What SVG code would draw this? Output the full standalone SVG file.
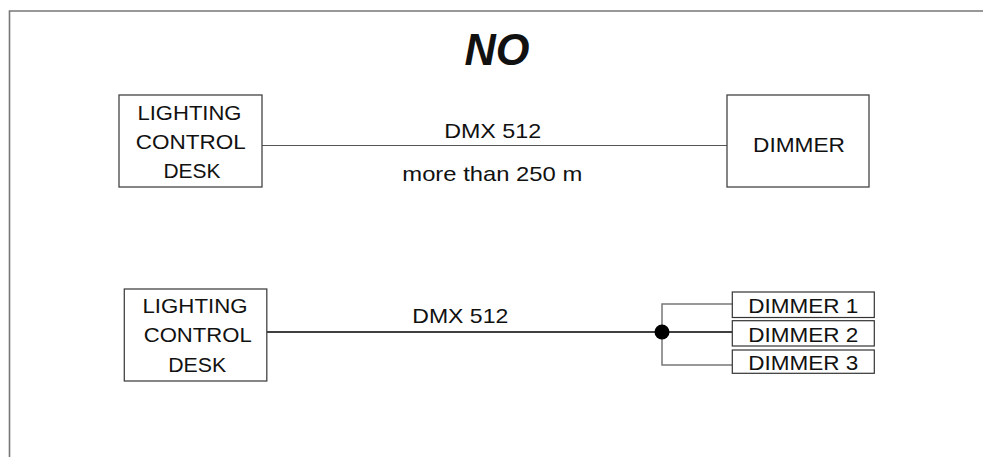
<svg xmlns="http://www.w3.org/2000/svg" width="983" height="457" viewBox="0 0 983 457">
<style>
text{font-family:"Liberation Sans",Arial,sans-serif;fill:#111;text-anchor:middle}
.t{font-size:20px}
.l{font-size:21px}
.box{fill:#fff;stroke:#444;stroke-width:1.3}
.sbox{fill:#fff;stroke:#333;stroke-width:1.2}
</style>
<rect width="983" height="457" fill="#fff"/>
<path d="M9.5,457 V11 H983" fill="none" stroke="#777" stroke-width="1.6"/>
<text x="497" y="65" style="font-size:45px;font-weight:bold;font-style:italic" fill="#000" textLength="65" lengthAdjust="spacingAndGlyphs">NO</text>
<g id="connectors">
<line x1="262" y1="145.5" x2="727" y2="145.5" stroke="#555" stroke-width="1.2"/>
<line x1="267" y1="332" x2="662" y2="332" stroke="#000" stroke-width="1.4"/>
<path d="M732,304 H662 V365 H732" fill="none" stroke="#777" stroke-width="1.5"/>
<line x1="662" y1="332" x2="732" y2="332" stroke="#000" stroke-width="1.4"/>
<circle cx="662" cy="332" r="7.5" fill="#000"/>
</g>
<g id="label-dmx1"><text class="l" x="492.7" y="138.3" textLength="97" lengthAdjust="spacingAndGlyphs">DMX 512</text></g>
<g id="label-dist"><text class="l" x="492.3" y="181" textLength="180" lengthAdjust="spacingAndGlyphs">more than 250 m</text></g>
<g id="label-dmx2"><text class="l" x="460.3" y="323.3" textLength="96" lengthAdjust="spacingAndGlyphs">DMX 512</text></g>
<g id="desk1">
<rect class="box" x="119" y="95" width="143" height="92"/>
<text class="t" x="189.5" y="120" textLength="104" lengthAdjust="spacingAndGlyphs">LIGHTING</text>
<text class="t" x="190.8" y="149" textLength="110" lengthAdjust="spacingAndGlyphs">CONTROL</text>
<text class="t" x="192" y="178.3" textLength="57" lengthAdjust="spacingAndGlyphs">DESK</text>
</g>
<g id="dimmer">
<rect class="box" x="727" y="95" width="142" height="92"/>
<text class="t" x="799" y="151.7" textLength="92" lengthAdjust="spacingAndGlyphs">DIMMER</text>
</g>
<g id="desk2">
<rect class="box" x="124.3" y="289" width="142.5" height="92"/>
<text class="t" x="195" y="313.3" textLength="105" lengthAdjust="spacingAndGlyphs">LIGHTING</text>
<text class="t" x="197.7" y="341.7" textLength="108" lengthAdjust="spacingAndGlyphs">CONTROL</text>
<text class="t" x="197.2" y="371.7" textLength="58" lengthAdjust="spacingAndGlyphs">DESK</text>
</g>
<g id="dimmer1">
<rect class="sbox" x="732.3" y="292" width="142" height="25.5"/>
<text class="t" x="803.3" y="312.7" textLength="110" lengthAdjust="spacingAndGlyphs">DIMMER 1</text>
</g>
<g id="dimmer2">
<rect class="sbox" x="732.3" y="320.7" width="142" height="25.3"/>
<text class="t" x="803.3" y="341.7" textLength="110" lengthAdjust="spacingAndGlyphs">DIMMER 2</text>
</g>
<g id="dimmer3">
<rect class="sbox" x="732.3" y="350" width="142" height="23.3"/>
<text class="t" x="803.3" y="370" textLength="110" lengthAdjust="spacingAndGlyphs">DIMMER 3</text>
</g>
</svg>
